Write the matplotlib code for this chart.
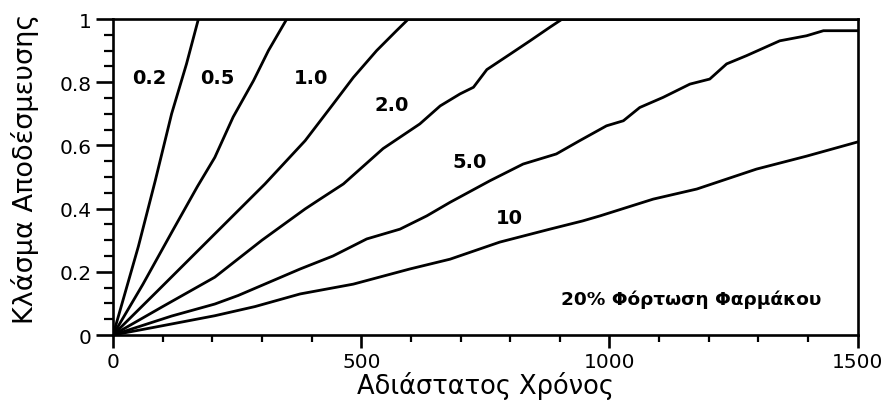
import matplotlib
matplotlib.use("Agg")
import matplotlib.pyplot as plt
from matplotlib.ticker import MultipleLocator, FixedLocator

plt.rcParams['font.family'] = ['DejaVu Sans']

# Dimensionless time / released fraction for each curve parameter
t_02 = [0, 51, 85, 118, 148, 172, 1500]
f_02 = [0, 0.28, 0.488, 0.70, 0.858, 1.0, 1.0]

t_05 = [0, 60, 120, 170, 205, 242, 283, 313, 350, 1500]
f_05 = [0, 0.16, 0.33, 0.47, 0.562, 0.69, 0.805, 0.90, 1.0, 1.0]

t_10 = [0, 90, 205, 306, 387, 443, 484, 531, 571, 595, 1500]
f_10 = [0, 0.14, 0.32, 0.478, 0.615, 0.73, 0.815, 0.90, 0.963, 1.0, 1.0]

t_20 = [0, 100, 205, 300, 387, 417, 464, 544, 618, 659, 699, 726, 753, 800, 840,
        880, 905, 1500]
f_20 = [0, 0.09, 0.183, 0.30, 0.399, 0.43, 0.478, 0.59, 0.668, 0.725, 0.763, 0.784,
        0.84, 0.889, 0.931, 0.974, 1.0, 1.0]

t_50 = [0, 118, 205, 252, 377, 443, 511, 578, 632, 679, 759, 826, 893, 940, 994,
        1028, 1061, 1108, 1162, 1202, 1236, 1276, 1343, 1397, 1431, 1500]
f_50 = [0, 0.06, 0.098, 0.125, 0.209, 0.25, 0.304, 0.335, 0.377, 0.42, 0.488, 0.541,
        0.573, 0.615, 0.662, 0.678, 0.72, 0.752, 0.794, 0.81, 0.858, 0.884, 0.931,
        0.947, 0.963, 0.963]

t_100 = [0, 85, 205, 286, 377, 484, 598, 679, 779, 880, 946, 981, 1088, 1176, 1296,
         1397, 1500]
f_100 = [0, 0.025, 0.061, 0.09, 0.13, 0.161, 0.209, 0.24, 0.294, 0.335, 0.361, 0.377,
         0.43, 0.462, 0.525, 0.566, 0.611]

curve_labels = ["0.2", "0.5", "1.0", "2.0", "5.0", "10"]
label_t = [74, 210, 399, 561, 719, 799]
label_f = [0.816, 0.816, 0.816, 0.73, 0.55, 0.373]

note_text = "20% Φόρτωση Φαρμάκου"
x_label = "Αδιάστατος Χρόνος"
y_label = "Κλάσμα Αποδέσμευσης"
x_ticks = [0, 500, 1000, 1500]
y_ticks = [0, 0.2, 0.4, 0.6, 0.8, 1.0]
y_tick_labels = ["0", "0.2", "0.4", "0.6", "0.8", "1"]

fig = plt.figure(figsize=(8.9, 4.06), dpi=100)
ax = fig.add_axes([0.127, 0.1724, 0.8367, 0.7783])

series = [(t_02, f_02), (t_05, f_05), (t_10, f_10),
          (t_20, f_20), (t_50, f_50), (t_100, f_100)]
for t, f in series:
    ax.plot(t, f, color="black", lw=2.0, solid_joinstyle="round")

for lab, tx, fy in zip(curve_labels, label_t, label_f):
    ax.text(tx, fy, lab, ha="center", va="center", fontsize=14,
            fontweight="bold")

ax.text(1164, 0.114, note_text, ha="center", va="center", fontsize=13.3,
        fontweight="bold")

ax.set_xlim(0, 1500)
ax.set_ylim(0, 1)
ax.xaxis.set_major_locator(FixedLocator(x_ticks))
ax.xaxis.set_minor_locator(MultipleLocator(100))
ax.yaxis.set_major_locator(FixedLocator(y_ticks))
ax.yaxis.set_minor_locator(MultipleLocator(0.05))
ax.set_yticklabels(y_tick_labels)

for s in ax.spines.values():
    s.set_linewidth(1.9)
ax.tick_params(which="both", direction="out", labelsize=14.5)
ax.tick_params(axis="x", which="major", length=9.5, width=1.9, pad=3)
ax.tick_params(axis="y", which="major", length=12.5, width=1.9, pad=3)
ax.tick_params(axis="x", which="minor", length=5, width=1.6)
ax.tick_params(axis="y", which="minor", length=6.5, width=1.6)

ax.set_xlabel(x_label, fontsize=18.5, labelpad=0)
ax.set_ylabel(y_label, fontsize=19.5)
ax.yaxis.set_label_coords(-0.10, 0.53)

fig.savefig("out.png", dpi=100)
